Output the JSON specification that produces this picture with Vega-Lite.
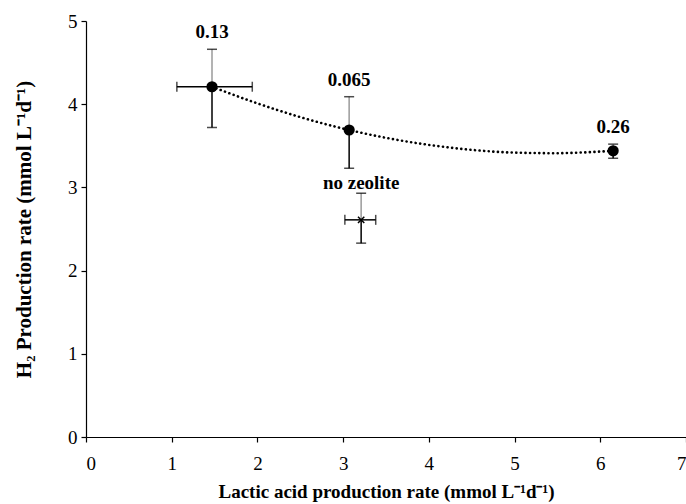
{
  "$schema": "https://vega.github.io/schema/vega-lite/v6.json",
  "width": 600,
  "height": 416,
  "autosize": "none",
  "padding": {"left": 86, "top": 21, "right": 0, "bottom": 67},
  "background": "white",
  "config": {
    "view": {"stroke": null},
    "font": "Liberation Serif",
    "axis": {
      "grid": false,
      "domainColor": "black",
      "domainWidth": 1.2,
      "tickColor": "black",
      "tickWidth": 1.2,
      "tickSize": 5,
      "labelFont": "Liberation Serif",
      "labelFontSize": 19,
      "labelColor": "black",
      "titleFont": "Liberation Serif",
      "titleFontSize": 19,
      "titleFontWeight": "bold",
      "titleColor": "black",
      "format": "d"
    }
  },
  "datasets": {
    "pts": [
      {"x": 1.47, "y": 4.21, "xlo": 1.06, "xhi": 1.94, "ylo": 3.72, "yhi": 4.66, "label": "0.13", "kind": "zeolite"},
      {"x": 3.07, "y": 3.69, "xlo": null, "xhi": null, "ylo": 3.23, "yhi": 4.09, "label": "0.065", "kind": "zeolite"},
      {"x": 6.15, "y": 3.44, "xlo": null, "xhi": null, "ylo": 3.35, "yhi": 3.52, "label": "0.26", "kind": "zeolite"},
      {"x": 3.21, "y": 2.61, "xlo": 3.02, "xhi": 3.38, "ylo": 2.33, "yhi": 2.93, "label": "no zeolite", "kind": "none"}
    ],
    "trend": [
      {"x": 1.47, "y": 4.21},
      {"x": 2.0, "y": 4.01},
      {"x": 2.5, "y": 3.845},
      {"x": 3.0, "y": 3.707},
      {"x": 3.5, "y": 3.596},
      {"x": 4.0, "y": 3.511},
      {"x": 4.5, "y": 3.451},
      {"x": 5.0, "y": 3.418},
      {"x": 5.5, "y": 3.411},
      {"x": 5.8, "y": 3.42},
      {"x": 6.15, "y": 3.44}
    ]
  },
  "layer": [
    {
      "data": {"name": "trend"},
      "mark": {"type": "line", "color": "black", "strokeWidth": 2.6, "strokeDash": [0.1, 4.5], "strokeCap": "round", "interpolate": "monotone"},
      "encoding": {
        "x": {"field": "x", "type": "quantitative", "scale": {"domain": [0, 7], "nice": false},
          "axis": {"values": [0, 1, 2, 3, 4, 5, 6, 7], "title": "Lactic acid production rate (mmol L⁻¹d⁻¹)", "titlePadding": 9, "labelPadding": 12}},
        "y": {"field": "y", "type": "quantitative", "scale": {"domain": [0, 5], "nice": false},
          "axis": {"values": [0, 1, 2, 3, 4, 5], "title": "H₂ Production rate (mmol L⁻¹d⁻¹)", "titleFontSize": 21, "titlePadding": 33, "labelPadding": 4}}
      }
    },
    {
      "data": {"name": "pts"},
      "mark": {"type": "rule", "color": "#9a9a9a", "strokeWidth": 1.5},
      "encoding": {
        "x": {"field": "x", "type": "quantitative"},
        "y": {"field": "y", "type": "quantitative"},
        "y2": {"field": "yhi"}
      }
    },
    {
      "data": {"name": "pts"},
      "mark": {"type": "rule", "color": "black", "strokeWidth": 1.5},
      "encoding": {
        "x": {"field": "x", "type": "quantitative"},
        "y": {"field": "ylo", "type": "quantitative"},
        "y2": {"field": "y"}
      }
    },
    {
      "data": {"name": "pts"},
      "transform": [{"fold": ["ylo", "yhi"], "as": ["which", "cap"]}],
      "mark": {"type": "tick", "orient": "horizontal", "color": "black", "size": 10, "thickness": 1.5},
      "encoding": {
        "x": {"field": "x", "type": "quantitative"},
        "y": {"field": "cap", "type": "quantitative"}
      }
    },
    {
      "data": {"name": "pts"},
      "transform": [{"filter": "datum.xlo != null"}],
      "mark": {"type": "rule", "color": "black", "strokeWidth": 1.5},
      "encoding": {
        "x": {"field": "xlo", "type": "quantitative"},
        "x2": {"field": "xhi"},
        "y": {"field": "y", "type": "quantitative"}
      }
    },
    {
      "data": {"name": "pts"},
      "transform": [{"filter": "datum.xlo != null"}, {"fold": ["xlo", "xhi"], "as": ["which", "cap"]}],
      "mark": {"type": "tick", "orient": "vertical", "color": "black", "size": 10, "thickness": 1.5},
      "encoding": {
        "x": {"field": "cap", "type": "quantitative"},
        "y": {"field": "y", "type": "quantitative"}
      }
    },
    {
      "data": {"name": "pts"},
      "transform": [{"filter": "datum.kind == 'zeolite'"}],
      "mark": {"type": "point", "shape": "circle", "filled": true, "color": "black", "size": 125, "opacity": 1},
      "encoding": {
        "x": {"field": "x", "type": "quantitative"},
        "y": {"field": "y", "type": "quantitative"}
      }
    },
    {
      "data": {"name": "pts"},
      "transform": [{"filter": "datum.kind == 'none'"}],
      "mark": {"type": "point", "shape": "M -1 -1 L 1 1 M -1 1 L 1 -1", "filled": false, "color": "black", "strokeWidth": 1.5, "size": 40, "opacity": 1},
      "encoding": {
        "x": {"field": "x", "type": "quantitative"},
        "y": {"field": "y", "type": "quantitative"}
      }
    },
    {
      "data": {"name": "pts"},
      "transform": [{"filter": "datum.kind == 'zeolite'"}],
      "mark": {"type": "text", "font": "Liberation Serif", "fontSize": 19, "fontWeight": "bold", "color": "black", "baseline": "alphabetic", "dy": -11},
      "encoding": {
        "x": {"field": "x", "type": "quantitative"},
        "y": {"field": "yhi", "type": "quantitative"},
        "text": {"field": "label"}
      }
    },
    {
      "data": {"name": "pts"},
      "transform": [{"filter": "datum.kind == 'none'"}],
      "mark": {"type": "text", "font": "Liberation Serif", "fontSize": 19, "fontWeight": "bold", "color": "black", "baseline": "alphabetic", "dy": -4},
      "encoding": {
        "x": {"field": "x", "type": "quantitative"},
        "y": {"field": "yhi", "type": "quantitative"},
        "text": {"field": "label"}
      }
    }
  ]
}
